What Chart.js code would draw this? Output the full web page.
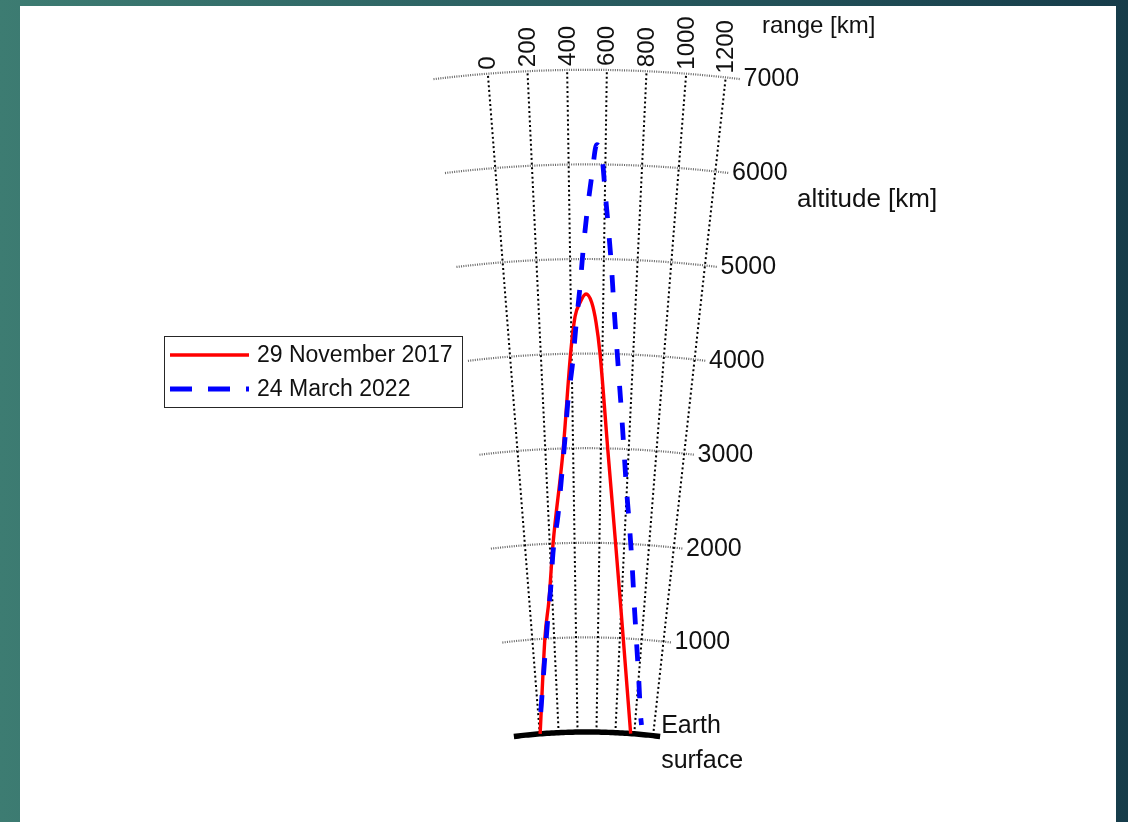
<!DOCTYPE html>
<html>
<head>
<meta charset="utf-8">
<script src="https://cdn.jsdelivr.net/npm/chart.js@4"></script>
<style>
  html, body { margin: 0; padding: 0; }
  body {
    width: 1128px; height: 822px; overflow: hidden; position: relative;
    background: linear-gradient(90deg, #3d7c72 0%, #2b6062 45%, #163c4a 100%);
  }
  #panel { position: absolute; left: 20px; top: 6px; width: 1096px; height: 816px; background: #fff; }
  #grafico { position: absolute; left: 0; top: 0; }
</style>
</head>
<body>
<div id="panel"></div>
<canvas id="grafico" width="1128" height="822"></canvas>
<script>
const rangeTicks = [0, 200, 400, 600, 800, 1000, 1200];
const altitudeTicks = [1000, 2000, 3000, 4000, 5000, 6000, 7000];
const seriesNames = ['29 November 2017', '24 March 2022'];

// ground range [km] / altitude [km]
const rangeNov2017 = [4, 117, 171, 226, 327, 394, 425, 457, 494, 529, 557, 584, 651, 731, 787, 829, 962];
const altNov2017 = [0, 1020, 1410, 1990, 2970, 4010, 4390, 4540, 4630, 4540, 4330, 4010, 2970, 1990, 1410, 1020, 0];

const rangeMar2022 = [28, 154, 191, 223, 275, 312, 344, 370, 406, 431, 457, 477, 500, 527, 552, 585, 600, 623, 645, 665, 688, 713, 740, 768, 799, 836, 874, 912, 953, 1000, 1050, 1068];
const altMar2022 = [230, 1230, 1535, 1900, 2300, 2710, 3110, 3500, 3905, 4305, 4700, 5090, 5490, 5890, 6210, 6020, 5730, 5330, 4940, 4540, 4140, 3750, 3360, 2960, 2560, 2170, 1770, 1360, 985, 595, 200, 100];

const RE = 6371;          // earth radius
const MID_RANGE = 500;    // range that points straight up
const ARC_FROM = -275;
const ARC_TO = 1275;
const PX_PER_KM = 0.0946;
const ORIGIN_X = 587, ORIGIN_Y = 732;  // earth surface under MID_RANGE

// range/altitude -> cartesian km (earth curvature)
function proj(range, alt) {
  const th = (range - MID_RANGE) / RE;
  const r = RE + alt;
  return { x: r * Math.sin(th), y: r * Math.cos(th) - RE };
}

function arcPoints(alt) {
  const pts = [];
  for (let r = ARC_FROM; r <= ARC_TO; r += 25) pts.push(proj(r, alt));
  return pts;
}

const datasets = [];

datasets.push({
  label: seriesNames[1],
  data: rangeMar2022.map((r, i) => proj(r, altMar2022[i])),
  borderColor: '#0000ff', borderWidth: 4.8, borderDash: [17, 20],
  cubicInterpolationMode: 'monotone', order: 0
});
datasets.push({
  label: seriesNames[0],
  data: rangeNov2017.map((r, i) => proj(r, altNov2017[i])),
  borderColor: '#ff0000', borderWidth: 3.4,
  cubicInterpolationMode: 'monotone', order: 1
});
datasets.push({
  label: 'surface', data: arcPoints(0),
  borderColor: '#000', borderWidth: 5.5, order: 2
});
rangeTicks.forEach(r => {
  datasets.push({
    label: 'r' + r, data: [proj(r, 0), proj(r, 7000)],
    borderColor: '#000', borderWidth: 2, borderDash: [2, 2.7], order: 3
  });
});
altitudeTicks.forEach(a => {
  datasets.push({
    label: 'a' + a, data: arcPoints(a),
    borderColor: 'rgba(0,0,0,0.6)', borderWidth: 2.2, borderDash: [1, 1.3], order: 4
  });
});
datasets.forEach(d => { d.showLine = true; d.pointRadius = 0; d.fill = false; });

const FAMILY = '"Liberation Sans", Arial, sans-serif';

const labelsPlugin = {
  id: 'labels',
  afterDatasetsDraw(chart) {
    const ctx = chart.ctx;
    const sx = chart.scales.x, sy = chart.scales.y;
    const px = p => ({ x: sx.getPixelForValue(p.x), y: sy.getPixelForValue(p.y) });
    ctx.save();
    ctx.fillStyle = '#111';
    ctx.font = '24px ' + FAMILY;

    // range labels, rotated
    rangeTicks.forEach(r => {
      const p = px(proj(r, 7000));
      ctx.save();
      ctx.translate(p.x + 1, p.y - 4);
      ctx.rotate(-Math.PI / 2);
      ctx.textAlign = 'left';
      ctx.textBaseline = 'middle';
      ctx.fillText(String(r), 0, 0);
      ctx.restore();
    });
    ctx.textAlign = 'left';
    ctx.textBaseline = 'alphabetic';
    ctx.fillText('range [km]', 762, 33);

    // altitude labels at right end of arcs
    ctx.font = '25px ' + FAMILY;
    ctx.textBaseline = 'middle';
    altitudeTicks.forEach(a => {
      const p = px(proj(ARC_TO, a));
      ctx.fillText(String(a), p.x + 3, p.y);
    });

    ctx.textBaseline = 'alphabetic';
    const e = px(proj(ARC_TO, 0));
    ctx.fillText('Earth', e.x + 1, 733);
    ctx.fillText('surface', e.x + 1, 768);
    ctx.font = '26px ' + FAMILY;
    ctx.fillText('altitude [km]', 797, 207);

    // legend
    ctx.fillStyle = '#fff';
    ctx.fillRect(165, 337, 297, 70);
    ctx.strokeStyle = '#262626';
    ctx.lineWidth = 1;
    ctx.strokeRect(164.5, 336.5, 298, 71);

    ctx.lineWidth = 3.4;
    ctx.strokeStyle = '#ff0000';
    ctx.beginPath(); ctx.moveTo(170, 355); ctx.lineTo(249, 355); ctx.stroke();

    ctx.lineWidth = 4.8;
    ctx.strokeStyle = '#0000ff';
    ctx.setLineDash([22, 16]);
    ctx.beginPath(); ctx.moveTo(170, 389); ctx.lineTo(249, 389); ctx.stroke();
    ctx.setLineDash([]);

    ctx.fillStyle = '#111';
    ctx.font = '23px ' + FAMILY;
    ctx.textBaseline = 'middle';
    ctx.fillText(seriesNames[0], 257, 356);
    ctx.fillText(seriesNames[1], 257, 390);
    ctx.restore();
  }
};

const grafico = document.getElementById('grafico');
const myChart = new Chart(grafico.getContext('2d'), {
  type: 'scatter',
  data: { datasets: datasets },
  options: {
    responsive: false,
    animation: false,
    events: [],
    layout: { padding: 0 },
    plugins: { legend: { display: false }, tooltip: { enabled: false } },
    scales: {
      x: { type: 'linear', display: false, min: -ORIGIN_X / PX_PER_KM, max: (1128 - ORIGIN_X) / PX_PER_KM },
      y: { type: 'linear', display: false, min: -(822 - ORIGIN_Y) / PX_PER_KM, max: ORIGIN_Y / PX_PER_KM }
    }
  },
  plugins: [labelsPlugin]
});
</script>
</body>
</html>
